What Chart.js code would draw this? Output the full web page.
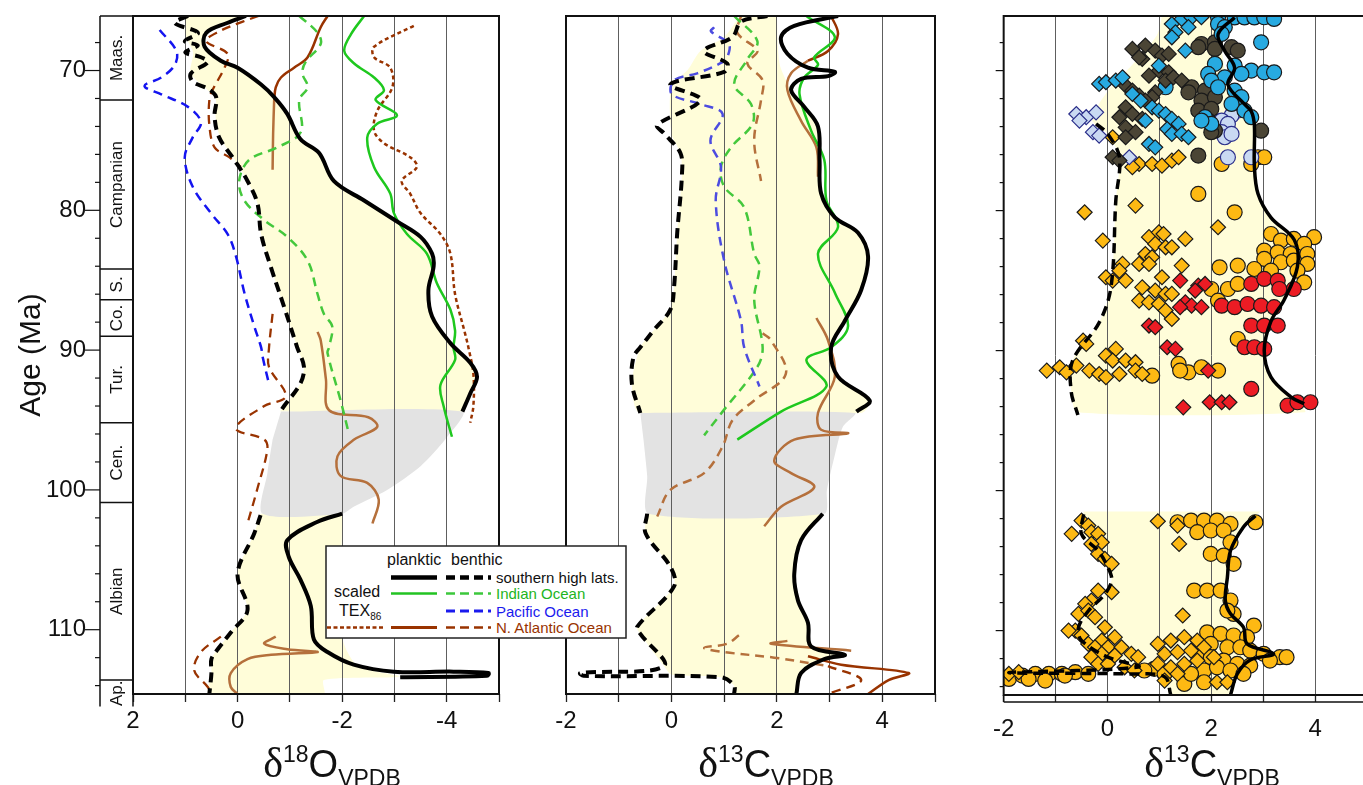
<!DOCTYPE html>
<html>
<head>
<meta charset="utf-8">
<script src="https://cdn.jsdelivr.net/npm/chart.js@4.4.1/dist/chart.umd.min.js"></script>
<style>
  html, body { margin: 0; padding: 0; background: #fff; overflow: hidden; }
  #wrap { position: relative; width: 1363px; height: 785px; overflow: hidden; }
  canvas { position: absolute; top: 0; }
  .ttl { position: absolute; top: 742px; transform: translateX(-50%); white-space: nowrap;
         font-family: 'Liberation Sans', Arial, sans-serif; font-size: 38px; line-height: 1; color: #111; }
  .ttl .d { font-family: 'Liberation Serif', 'Times New Roman', serif; font-size: 42px; }
  .ttl .sp { font-size: 23px; position: relative; top: -15px; }
  .ttl .sb { font-size: 23px; position: relative; top: 9px; }
  #leg { position: absolute; left: 320px; top: 540px; }
</style>
</head>
<body>
<div id="wrap">
  <canvas id="c1" width="540" height="785" style="left:0"></canvas>
  <canvas id="c2" width="420" height="785" style="left:540px"></canvas>
  <canvas id="c3" width="400" height="785" style="left:980px"></canvas>

  <div class="ttl" style="left:332px"><span class="d">δ</span><span class="sp">18</span>O<span class="sb">VPDB</span></div>
  <div class="ttl" style="left:766px"><span class="d">δ</span><span class="sp">13</span>C<span class="sb">VPDB</span></div>
  <div class="ttl" style="left:1212px"><span class="d">δ</span><span class="sp">13</span>C<span class="sb">VPDB</span></div>

  <svg id="leg" width="312" height="104" font-family="Liberation Sans, Arial, sans-serif" font-size="15">
    <rect x="6" y="6" width="300" height="92" fill="#fff" stroke="#222" stroke-width="1.5"/>
    <text x="67" y="25" font-size="16" fill="#111">planktic</text>
    <text x="131" y="25" font-size="16" fill="#111">benthic</text>
    <text x="14" y="57" font-size="16" fill="#111">scaled</text>
    <text x="19" y="76" font-size="16" fill="#111">TEX<tspan font-size="10" dy="4">86</tspan></text>

    <line x1="71" y1="37.5" x2="117" y2="37.5" stroke="#000" stroke-width="4.5"/>
    <line x1="126" y1="37.5" x2="171" y2="37.5" stroke="#000" stroke-width="4.5" stroke-dasharray="9 5"/>
    <text x="176" y="43" fill="#111">southern high lats.</text>

    <line x1="71" y1="53.5" x2="117" y2="53.5" stroke="#22c322" stroke-width="2.5"/>
    <line x1="126" y1="53.5" x2="171" y2="53.5" stroke="#3cc83c" stroke-width="2.5" stroke-dasharray="9 5"/>
    <text x="176" y="59" fill="#22b422">Indian Ocean</text>

    <line x1="126" y1="71" x2="171" y2="71" stroke="#1a1aee" stroke-width="3" stroke-dasharray="9 5"/>
    <text x="176" y="76.5" fill="#1a1aee">Pacific Ocean</text>

    <line x1="7" y1="87.5" x2="63" y2="87.5" stroke="#993300" stroke-width="2.5" stroke-dasharray="4 2.5"/>
    <line x1="71" y1="87.5" x2="117" y2="87.5" stroke="#993300" stroke-width="3"/>
    <line x1="126" y1="87.5" x2="171" y2="87.5" stroke="#993300" stroke-width="2.5" stroke-dasharray="9 5"/>
    <text x="176" y="93" fill="#993300">N. Atlantic Ocean</text>
  </svg>
</div>

<script>
// ---- axes ----
const ageMin = 66.1, ageMax = 114.6;
const ageTicks = [70, 80, 90, 100, 110];
const o18Ticks = [-5, -4, -3, -2, -1, 0, 1, 2];
const c13Ticks = [-2, -1, 0, 1, 2, 3, 4, 5];
const stageNames = ['Maas.', 'Campanian', 'S.', 'Co.', 'Tur.', 'Cen.', 'Albian', 'Ap.'];
const stageBase = [72.1, 84.2, 86.4, 89.0, 95.2, 100.9, 113.6, 115.5];

// ---- d18O panel: [value, age] ----
const o18SouthPlank = [[-0.16,66.1],[0.2,66.6],[0.6,67.3],[0.63,68.3],[0.32,69.3],[0.0,69.8],[-0.45,71.0],[-0.7,71.9],[-0.95,73.1],[-1.2,74.9],[-1.56,75.9],[-1.84,77.9],[-2.42,79.3],[-3.05,80.8],[-3.5,81.9],[-3.72,83.1],[-3.75,84.0],[-3.65,85.7],[-3.72,87.6],[-4.07,89.5],[-4.45,90.9],[-4.58,91.9],[-4.45,93.1],[-4.3,94.4]];
const o18SouthPlankLow = [[-2.0,101.7],[-1.52,102.3],[-0.95,103.6],[-0.98,104.8],[-1.2,106.4],[-1.4,108.3],[-1.46,110.7],[-1.72,111.6],[-2.22,112.5],[-2.99,113.0],[-4.13,113.0],[-4.8,113.1],[-4.77,113.3],[-3.11,113.4]];
const o18SouthBenth = [[0.95,66.1],[1.2,66.6],[0.76,67.3],[1.01,67.9],[0.76,68.2],[1.0,68.7],[0.7,69.05],[0.57,69.4],[0.89,70.2],[0.86,70.8],[0.57,71.3],[0.41,71.9],[0.44,73.3],[0.35,74.8],[0.06,76.4],[-0.19,77.9],[-0.38,79.5],[-0.45,81.7],[-0.64,84.1],[-0.89,86.9],[-1.14,89.8],[-1.27,91.2],[-1.2,92.4],[-0.89,94.0],[-0.82,94.4]];
const o18SouthBenthLow = [[-0.44,101.8],[-0.32,103.1],[0.0,106.0],[-0.19,108.6],[0.13,110.2],[0.38,111.4],[0.5,112.1],[0.5,113.1],[0.54,114.6]];
const o18PacBenth = [[1.49,67.1],[1.17,68.6],[1.2,69.6],[1.46,70.5],[1.78,71.1],[1.46,71.7],[0.95,72.6],[0.7,73.7],[0.86,74.8],[1.01,76.2],[0.86,78.3],[0.51,80.2],[0.19,81.7],[0.03,83.3],[-0.13,85.9],[-0.32,88.3],[-0.45,89.8],[-0.48,90.5],[-0.6,92.4]];
const o18IndPlank = [[-2.42,66.1],[-2.17,67.4],[-2.04,68.6],[-2.23,69.5],[-2.61,70.5],[-2.8,71.4],[-2.64,72.1],[-3.05,73.2],[-2.67,73.8],[-2.48,74.8],[-2.61,76.9],[-2.92,78.8],[-2.99,80.2],[-3.24,81.7],[-3.62,83.1],[-3.81,85.2],[-4.07,87.1],[-4.16,88.6],[-4.13,89.8],[-4.16,90.7],[-3.88,92.5],[-3.94,94.0],[-4.1,96.2]];
const o18IndBenth = [[-1.18,66.1],[-1.53,67.3],[-1.59,68.1],[-1.3,69.4],[-1.24,70.2],[-1.34,71.2],[-1.18,72.1],[-1.21,74.4],[-0.76,75.5],[-0.22,76.4],[-0.03,77.9],[-0.13,79.3],[-0.51,80.7],[-0.95,81.9],[-1.34,83.6],[-1.53,86.0],[-1.65,87.4],[-1.81,88.3],[-1.75,89.8],[-1.72,90.2],[-1.97,93.6],[-2.13,96.0]];
const o18AtlPlankTop = [[-1.72,66.1],[-1.59,66.9],[-1.34,69.05],[-1.08,69.8],[-0.83,70.5],[-0.73,71.2],[-0.7,72.1]];
const o18AtlPlankTop2 = [[-0.7,72.1],[-0.68,74.5],[-0.67,77.1]];
const o18AtlPlankMid = [[-1.53,88.7],[-1.59,89.3],[-1.69,92.1],[-1.75,94.3],[-2.5,94.8],[-2.67,95.5],[-2.23,96.4],[-1.91,97.6],[-1.97,99.0],[-2.48,99.5],[-2.7,100.7],[-2.58,102.4]];
const o18AtlPlankLow = [[-0.73,110.5],[-0.51,111.0],[-0.95,111.4],[-1.53,111.6],[-0.64,111.8],[-0.19,112.1],[0.13,113.1],[0.13,114.1],[0.0,114.6]];
const o18AtlBenthTop = [[-0.4,66.1],[-0.1,66.5],[0.35,67.2],[0.6,67.9],[0.19,68.8],[0.25,69.8],[0.48,71.4],[0.54,72.1],[0.54,73.9],[0.44,75.5],[0.16,76.2],[-0.06,76.9]];
const o18AtlBenthMid = [[-0.67,87.4],[-0.6,89.9],[-0.6,91.2],[-0.92,93.3],[-0.51,94.0],[0.03,95.6],[-0.51,96.4],[-0.57,97.1],[-0.38,99.9],[-0.19,102.4]];
const o18AtlBenthLow = [[0.32,110.5],[0.7,111.6],[0.83,112.9],[0.57,114.1],[0.5,114.6]];
const o18Tex = [[-3.37,66.8],[-2.61,68.3],[-2.61,69.05],[-2.92,69.8],[-2.96,71.2],[-2.67,72.9],[-2.61,74.3],[-2.8,75.2],[-3.3,76.2],[-3.43,76.9],[-3.14,77.9],[-3.3,78.8],[-3.5,80.2],[-3.88,81.7],[-4.07,83.1],[-4.16,86.0],[-4.35,88.8],[-4.42,89.9],[-4.51,91.7],[-4.51,94.0],[-4.45,95.2]];
const o18YellowTop = [[1.0,66.1],[1.0,67.5],[0.85,68.7],[0.9,70.2],[0.6,71.3],[0.42,72.0],[0.42,73.3],[0.33,74.8],[0.05,76.4],[-0.19,77.9],[-0.38,79.5],[-0.45,81.7],[-0.64,84.1],[-0.89,86.9],[-1.14,89.8],[-1.27,91.2],[-1.2,92.4],[-0.9,94.0],[-0.82,94.4],[-4.3,94.4],[-4.45,93.1],[-4.58,91.9],[-4.45,90.9],[-4.07,89.5],[-3.72,87.6],[-3.65,85.7],[-3.75,84.0],[-3.72,83.1],[-3.5,81.9],[-3.05,80.8],[-2.42,79.3],[-1.84,77.9],[-1.56,75.9],[-1.2,74.9],[-0.95,73.1],[-0.7,71.9],[-0.45,71.0],[0.0,69.8],[0.32,69.3],[0.63,68.3],[0.6,67.3],[-0.16,66.1]];
const o18YellowLow = [[-0.44,101.7],[-0.32,103.1],[0.0,106.0],[-0.19,108.6],[0.13,110.2],[0.38,111.4],[0.5,112.1],[0.5,113.1],[0.54,114.7],[-1.65,114.7],[-1.65,113.6],[-3.1,113.35],[-2.3,112.6],[-2.0,110.5],[-2.0,101.7]];
const o18Grey = [[-0.83,94.4],[-4.3,94.4],[-3.97,96.4],[-3.5,98.3],[-2.86,100.0],[-2.22,101.2],[-2.0,101.7],[-0.48,101.7],[-0.57,98.8],[-0.67,96.4]];

// ---- d13C panel ----
const c13SouthPlank = [[3.16,66.1],[2.33,66.8],[2.08,67.6],[2.2,68.8],[2.59,69.8],[3.1,70.1],[2.97,70.4],[2.46,70.6],[2.27,71.4],[2.52,72.6],[2.78,74.0],[2.81,76.4],[2.84,78.8],[3.1,80.5],[3.54,81.6],[3.73,83.3],[3.6,85.7],[3.29,87.9],[3.03,89.8],[3.16,91.9],[3.76,93.6],[3.51,94.4]];
const c13SouthPlankLow = [[2.87,101.7],[2.46,103.6],[2.33,106.0],[2.4,107.9],[2.59,109.5],[2.65,111.2],[3.29,111.8],[2.9,112.1],[2.46,113.1],[2.37,114.6]];
const c13SouthBenth = [[1.82,66.1],[1.32,66.5],[1.16,67.6],[0.62,68.6],[1.06,69.5],[1.0,70.1],[-0.02,71.0],[0.55,72.1],[-0.27,73.9],[-0.14,74.5],[0.17,75.9],[0.2,77.4],[0.11,81.6],[0.05,85.5],[-0.02,87.1],[-0.34,88.6],[-0.59,89.8],[-0.72,90.5],[-0.75,92.4],[-0.59,94.5]];
const c13SouthBenthLow = [[-0.46,101.7],[-0.49,103.1],[-0.02,105.5],[0.05,106.9],[-0.65,109.8],[-0.59,110.3],[-0.14,112.6],[-1.73,113.1],[-1.67,113.3],[0.94,113.4],[1.19,114.0],[1.19,114.6]];
const c13PacBenth = [[0.81,66.9],[0.75,67.2],[1.09,68.1],[1.06,69.05],[0.97,69.4],[0.49,70.2],[0.05,70.7],[0.01,71.7],[0.55,72.4],[0.97,73.1],[0.74,75.0],[0.94,76.9],[0.84,79.3],[1.0,83.6],[1.32,87.9],[1.38,89.8],[1.67,92.6]];
const c13IndPlank = [[2.56,66.1],[3.1,67.6],[2.71,69.05],[2.78,69.6],[2.52,70.5],[2.43,71.7],[2.65,74.3],[2.9,76.4],[2.94,79.3],[3.16,81.2],[2.78,83.1],[3.1,85.9],[3.35,88.3],[3.03,89.8],[2.56,90.7],[2.94,92.6],[2.08,94.4],[1.25,96.4]];
const c13IndBenth = [[1.19,66.1],[1.63,67.9],[1.44,69.2],[1.19,71.0],[1.51,72.4],[1.54,73.8],[1.13,75.5],[0.94,76.9],[1.0,78.3],[1.38,79.8],[1.57,83.1],[1.67,84.0],[1.57,86.4],[1.73,89.8],[1.63,91.2],[0.97,94.4],[0.62,96.1]];
const c13AtlPlankTop = [[3.03,66.1],[3.16,67.4],[2.97,68.6],[2.59,69.3]];
const c13AtlPlankTop2 = [[2.59,69.3],[2.27,70.2],[2.2,71.4],[2.46,73.6],[2.75,75.5],[2.78,77.6]];
const c13AtlBenthTop = [[1.32,66.1],[1.25,67.3],[1.63,68.6],[1.44,69.5],[1.73,70.7],[1.7,72.1],[1.57,75.0],[1.7,77.9]];
const c13AtlPlankMid = [[2.75,87.7],[2.97,89.3],[3.1,91.9],[2.78,94.5],[2.84,95.7],[3.35,95.95],[2.33,96.4],[1.95,97.9],[2.27,98.8],[2.71,99.8],[2.08,101.2],[1.76,102.6]];
const c13AtlBenthMid = [[1.73,88.8],[1.89,89.3],[2.17,91.7],[1.57,93.6],[1.16,95.0],[0.97,96.9],[0.62,98.8],[-0.02,100.0],[-0.27,101.9]];
const c13AtlPlankLow = [[2.2,110.8],[1.89,111.0],[3.41,111.5]];
const c13AtlPlankLow2 = [[2.59,111.9],[3.22,112.5],[4.5,113.1],[4.12,113.6],[3.73,114.6]];
const c13AtlBenthLow = [[1.28,110.4],[1.06,111.0],[0.62,111.3],[1.0,111.6],[1.95,112.0],[2.97,112.6]];
const c13AtlBenthLow2 = [[2.97,112.6],[3.6,113.6],[2.97,114.6]];
const c13YellowTop = [[1.3,66.1],[1.0,67.6],[0.55,68.6],[0.3,70.0],[0.0,71.0],[0.0,74.5],[0.17,75.9],[0.2,77.4],[0.11,81.6],[0.05,85.5],[-0.02,87.1],[-0.34,88.6],[-0.59,89.8],[-0.75,92.4],[-0.59,94.5],[3.6,94.5],[3.76,93.6],[3.16,91.9],[3.03,89.8],[3.29,87.9],[3.6,85.7],[3.73,83.3],[3.54,81.6],[3.1,80.5],[2.84,78.8],[2.81,76.4],[2.78,74.0],[2.52,72.6],[2.27,71.4],[2.05,69.5],[2.0,66.1]];
const c13YellowLow = [[-0.46,101.7],[-0.49,103.1],[-0.02,105.5],[0.05,106.9],[-0.65,109.8],[-0.59,110.3],[-0.14,112.6],[0.0,113.2],[0.94,113.4],[1.19,114.0],[1.19,114.7],[2.37,114.7],[2.46,113.1],[2.9,112.1],[3.29,111.8],[2.65,111.2],[2.59,109.5],[2.4,107.9],[2.33,106.0],[2.46,103.6],[2.87,101.7]];
const c13Grey = [[-0.59,94.5],[3.48,94.5],[3.25,95.5],[3.1,97.5],[2.95,100.0],[2.9,101.7],[-0.43,101.7],[-0.46,99.0],[-0.53,96.4]];

// ---- d13C compilation panel ----
const c13bPlank = [[2.45,66.2],[2.13,67.4],[2.26,68.6],[2.45,69.8],[2.32,71.0],[2.64,72.4],[2.77,72.9],[2.83,73.9],[2.83,76.8],[2.9,78.8],[3.15,80.5],[3.6,82.1],[3.66,84.0],[3.4,86.4],[3.15,87.9],[3.02,90.0],[3.15,91.9],[3.53,93.3],[3.79,93.8]];
const c13bBenth = [[-0.22,73.8],[0.0,74.5],[0.23,76.2],[0.16,79.3],[0.07,85.4],[-0.16,88.0],[-0.67,90.7],[-0.7,92.9],[-0.57,94.6]];
const c13bPlankLow = [[2.85,101.8],[2.62,102.6],[2.37,104.3],[2.31,106.2],[2.27,107.85],[2.37,108.8],[2.62,109.76],[2.69,110.95],[3.2,111.66],[2.75,112.1],[2.5,113.1],[2.37,114.6]];
const c13bBenthLow = [[-0.46,101.7],[-0.5,103.1],[-0.18,104.3],[0.01,105.5],[0.08,106.4],[-0.05,107.4],[-0.37,108.6],[-0.56,109.8],[-0.5,110.7],[0.01,111.9],[0.59,112.6],[-1.9,113.0],[0.46,113.1],[1.1,113.3],[1.22,114.6]];
const c13bYellowTop = [[1.05,66.1],[0.95,67.5],[0.5,69.5],[0.0,71.5],[-0.3,73.5],[0.0,74.5],[0.23,76.2],[0.16,79.3],[0.07,85.4],[-0.16,88.0],[-0.67,90.7],[-0.7,92.9],[-0.57,94.4],[3.8,94.4],[3.53,93.3],[3.15,91.9],[3.02,90.0],[3.15,87.9],[3.4,86.4],[3.66,84.0],[3.6,82.1],[3.15,80.5],[2.9,78.8],[2.83,76.8],[2.83,73.9],[2.64,72.4],[2.32,71.0],[2.2,68.6],[2.0,66.1]];
const c13bYellowLow = [[-0.46,101.5],[-0.5,103.1],[-0.18,104.3],[0.01,105.5],[0.08,106.4],[-0.05,107.4],[-0.37,108.6],[-0.56,109.8],[-0.5,110.7],[0.01,111.9],[0.59,112.6],[1.1,113.3],[1.22,114.7],[2.37,114.7],[2.5,113.1],[2.75,112.1],[3.2,111.66],[2.69,110.95],[2.62,109.76],[2.37,108.8],[2.27,107.85],[2.31,106.2],[2.37,104.3],[2.62,102.6],[2.95,101.5]];

const blueDiamonds = [[1.24,66.67],[1.43,66.31],[1.62,66.2],[1.81,66.19],[1.31,67.26],[1.56,66.9],[1.24,67.62],[1.5,68.57],[0.99,69.64],[-0.16,70.95],[-0.03,70.83],[0.16,70.71],[0.29,70.48],[0.48,71.67],[0.64,72.14],[0.86,72.62],[0.99,72.86],[1.12,73.1],[1.24,73.45],[1.37,73.81],[0.73,73.57],[1.15,74.17],[1.24,74.52],[1.43,74.52],[1.56,74.76],[0.8,75.24],[0.92,75.48]];
const oliveDiamonds = [[0.48,68.45],[0.73,68.21],[0.92,68.57],[1.05,68.93],[1.18,68.81],[0.67,69.17],[0.61,69.05],[0.99,70.0],[1.18,70.12],[0.8,70.36],[1.12,70.71],[1.27,70.48],[1.43,70.71],[0.35,71.07],[0.48,71.43],[0.61,71.79],[0.92,71.55],[0.86,71.9],[0.73,72.14],[0.35,72.62],[0.48,73.1],[0.67,73.45],[0.23,73.33],[0.35,74.05],[0.54,74.4],[0.35,74.76],[0.1,76.19],[0.23,76.43]];
const lavDiamonds = [[-0.6,73.1],[-0.41,73.33],[-0.22,72.98],[-0.54,73.57],[-0.28,74.4],[-0.16,74.64],[0.42,76.19]];
const goldDiamonds = [[0.1,74.76],[0.61,76.67],[0.86,76.67],[1.05,76.79],[1.24,76.43],[1.37,76.19],[0.48,76.9],[-0.44,80.12],[0.54,79.64],[2.13,81.19],[-0.09,82.14],[0.8,81.9],[0.99,81.55],[1.08,81.67],[1.5,82.02],[0.92,82.38],[1.12,82.62],[1.24,82.62],[0.73,83.1],[0.86,83.33],[0.29,83.81],[0.61,83.81],[0.8,83.81],[1.43,83.93],[0.23,84.29],[-0.03,84.76],[0.1,85.0],[0.35,85.0],[1.05,84.76],[0.67,85.48],[0.92,85.71],[1.12,85.95],[1.24,85.95],[0.61,86.43],[0.8,86.55],[0.99,86.67],[1.12,87.14],[1.24,87.74],[-0.47,89.29],[-0.41,89.52],[0.16,89.88],[-0.03,90.36],[0.1,90.71],[0.35,90.71],[0.54,90.83],[-1.17,91.43],[-0.92,91.19],[-0.79,91.55],[-0.6,91.07],[-0.35,91.43],[-0.16,91.67],[-0.03,91.9],[0.23,91.67],[0.54,91.43],[0.67,91.67],
  [-0.5,102.14],[-0.37,102.5],[-0.69,103.09],[-0.31,102.97],[-0.18,103.09],[-0.11,103.69],[-0.31,103.81],[-0.18,104.52],[-0.05,104.88],[0.08,105.23],[0.97,102.19],[1.35,102.5],[1.38,103.81],[-0.18,107.14],[0.08,107.26],[-0.31,107.85],[-0.43,108.09],[-0.56,108.81],[-0.37,108.57],[-0.24,109.04],[-0.62,110.0],[-0.75,110.0],[-0.5,110.35],[-0.05,109.76],[0.14,110.47],[-0.11,110.71],[-0.37,110.95],[-0.24,111.19],[0.01,111.19],[0.27,111.19],[-0.11,111.66],[0.14,111.78],[-0.31,111.9],[0.46,111.66],[0.59,111.9],[-0.18,112.38],[0.01,112.38],[0.33,112.62],[0.52,112.85],[-1.9,113.09],[-1.71,112.97],[1.45,108.92],[0.97,110.95],[1.22,110.71],[1.48,110.47],[1.73,110.71],[1.1,111.66],[1.35,111.54],[1.61,111.43],[0.97,112.38],[1.22,112.62],[1.48,112.38],[1.73,112.14],[1.1,113.57],[1.35,113.09],[2.11,113.69],[2.31,113.69],[1.86,111.19],[2.05,111.9]];
const redDiamonds = [[1.4,85.0],[1.75,85.36],[1.88,85.24],[1.69,85.71],[1.5,86.55],[1.62,86.79],[1.81,86.9],[1.4,86.9],[0.8,88.21],[0.92,88.33],[1.15,89.76],[1.31,89.88],[1.94,91.43],[1.46,94.05],[1.97,93.69],[2.2,93.69],[2.35,93.69]];
const blueCircles = [[2.13,66.19],[2.45,66.2],[2.64,66.2],[2.83,66.2],[3.02,66.19],[3.21,66.31],[2.13,66.67],[2.26,66.9],[2.2,67.38],[2.96,67.98],[2.07,69.52],[2.45,69.64],[2.77,70.0],[3.02,70.12],[3.21,70.12],[1.94,70.24],[2.26,70.48],[2.58,70.24],[2.0,70.71],[2.13,71.19],[1.12,71.19],[2.45,71.43],[2.58,71.9],[2.39,72.38],[2.64,72.86],[2.77,73.33],[1.88,73.33],[2.0,73.81],[1.81,73.57]];
const oliveCircles = [[1.81,68.1],[2.07,67.98],[2.39,68.33],[2.51,68.57],[1.75,68.33],[2.07,68.45],[1.62,71.19],[1.56,71.55],[1.88,71.43],[1.81,72.14],[2.07,71.9],[1.75,72.86],[2.0,72.74],[1.94,73.57],[2.07,74.29],[2.0,74.4],[2.96,74.29],[1.75,76.07]];
const lavCircles = [[2.51,72.86],[2.39,73.21],[2.2,73.57],[2.32,73.81],[2.2,74.4],[2.26,74.76],[2.39,74.52],[2.32,76.19],[2.77,76.19]];
const goldCircles = [[2.9,76.19],[3.02,76.19],[2.77,76.67],[2.2,76.67],[1.75,78.81],[2.45,80.12],[3.98,81.9],[3.15,81.67],[3.34,82.14],[3.59,82.02],[3.79,82.38],[3.02,82.86],[3.28,82.98],[3.53,83.1],[3.85,83.1],[3.02,83.45],[3.34,83.69],[3.59,83.57],[3.85,83.81],[2.16,84.05],[2.51,83.93],[2.83,84.17],[3.15,84.29],[3.66,84.29],[3.79,85.12],[2.0,85.6],[2.32,85.6],[2.51,85.24],[2.13,86.43],[2.51,89.17],[1.37,90.95],[1.56,91.55],[1.81,91.19],[2.13,91.43],[0.86,91.79],[1.4,91.43],
  [-1.9,113.45],[-1.64,113.21],[-1.39,113.09],[-1.13,113.09],[-0.88,113.09],[-0.62,112.97],[-0.37,113.09],[-1.52,113.45],[-1.2,113.57],[-0.82,113.21],[1.35,102.26],[1.61,102.14],[1.86,102.14],[2.11,102.14],[2.37,102.38],[1.73,102.97],[1.99,102.85],[2.24,102.85],[2.85,102.26],[2.37,103.69],[1.99,104.52],[2.24,104.64],[2.43,105.23],[1.67,107.14],[1.92,107.14],[2.18,107.14],[2.37,107.85],[2.43,108.81],[2.31,108.57],[2.82,109.64],[1.92,110.12],[2.18,110.23],[2.43,110.35],[2.69,110.47],[1.99,110.95],[2.31,111.19],[2.56,111.19],[2.75,111.43],[3.01,111.66],[3.32,111.9],[3.13,112.14],[3.45,111.9],[1.73,111.66],[1.99,111.9],[2.24,112.14],[2.5,112.38],[2.75,112.5],[1.86,112.85],[2.11,112.62],[2.37,112.85],[2.62,113.09],[1.48,113.81],[1.86,113.69],[1.61,113.09],[0.9,112.73],[0.71,112.85],[1.1,113.09]];
const redCircles = [[2.77,85.24],[3.02,84.88],[3.28,85.0],[3.59,85.6],[3.31,85.6],[2.2,86.79],[2.45,86.9],[2.7,86.67],[2.96,86.79],[3.21,86.9],[2.77,88.21],[3.02,88.21],[3.28,88.21],[2.64,89.76],[2.83,89.76],[3.02,89.88],[2.77,92.74],[3.47,93.93],[3.66,93.69],[3.91,93.69]];

// ---- helpers ----
const pts = arr => arr.map(([x, y]) => ({ x, y }));
const curve = (d, color, width, dash) => ({
  data: pts(d), borderColor: color, borderWidth: width, borderDash: dash || [],
  pointRadius: 0, fill: false, tension: 0.35, order: 0
});
const area = (d, color, order) => ({
  data: pts(d), backgroundColor: color, borderColor: 'rgba(0,0,0,0)', borderWidth: 0,
  pointRadius: 0, fill: 'shape', tension: 0.25, order
});
const marks = (d, color, style, edge) => ({
  data: pts(d), showLine: false, pointRadius: 7.5, pointStyle: style,
  pointBackgroundColor: color, pointBorderColor: edge || '#1a1a1a', pointBorderWidth: 1.2, order: 5
});

const BLACK = '#000', GREEN = '#1ec81e', GREEN2 = '#44c83c', BLUE = '#1414f0', BLUE2 = '#4c4ce0';
const DKBROWN = '#993300', TAN = '#b5703c', YELLOW = '#fffdd9', GREY = '#e3e3e3';
const NARROW = "'Liberation Sans Narrow', 'Arial Narrow', sans-serif";
const DASH = [10, 6], DASH2 = [9, 6], DOT = [4, 3];

Chart.defaults.font.family = "'Liberation Sans', Arial, sans-serif";

const framePlugin = {
  id: 'frame',
  afterDraw(chart, args, opts) {
    const { ctx, chartArea: a } = chart;
    ctx.save();
    ctx.strokeStyle = '#111';
    ctx.lineWidth = 2;
    ctx.strokeRect(a.left, a.top, a.right - a.left, a.bottom - a.top);
    if (opts.extraBottom) {
      ctx.lineWidth = 1.5;
      ctx.beginPath();
      ctx.moveTo(a.left, a.bottom + opts.extraBottom);
      ctx.lineTo(chart.width, a.bottom + opts.extraBottom);
      ctx.moveTo(a.left, a.bottom);
      ctx.lineTo(a.left, a.bottom + opts.extraBottom);
      ctx.stroke();
    }
    if (opts.leftTicks) {
      const y = chart.scales.y;
      ctx.lineWidth = 1.2;
      for (let v = 68; v <= 114; v += 2) {
        const py = y.getPixelForValue(v);
        ctx.beginPath();
        ctx.moveTo(a.left - (v % 10 === 0 ? 8 : 4), py);
        ctx.lineTo(a.left, py);
        ctx.stroke();
      }
    }
    ctx.restore();
  }
};

// geologic stage column left of the first panel
const stagePlugin = {
  id: 'stages',
  afterDraw(chart) {
    const { ctx, chartArea: a } = chart;
    const y = chart.scales.y;
    const x0 = 100, x1 = a.left;
    const last = stageBase.length - 1;
    ctx.save();
    ctx.strokeStyle = '#111';
    ctx.lineWidth = 1.5;
    ctx.beginPath();
    ctx.moveTo(x0, a.top); ctx.lineTo(x1, a.top);
    ctx.moveTo(x0, a.top); ctx.lineTo(x0, y.getPixelForValue(stageBase[last]));
    ctx.moveTo(x1, a.bottom); ctx.lineTo(x1, y.getPixelForValue(stageBase[last]));
    for (let i = 0; i < last; i++) {
      const py = y.getPixelForValue(stageBase[i]);
      ctx.moveTo(x0, py); ctx.lineTo(x1, py);
    }
    ctx.stroke();
    ctx.lineWidth = 1.2;
    for (let v = 68; v <= 114; v += 2) {
      const py = y.getPixelForValue(v);
      ctx.beginPath();
      ctx.moveTo(x0 - (v % 10 === 0 ? 15 : 5), py);
      ctx.lineTo(x0, py);
      ctx.stroke();
    }
    ctx.fillStyle = '#111';
    ctx.font = "17px 'Liberation Sans', Arial, sans-serif";
    ctx.textAlign = 'center';
    ctx.textBaseline = 'middle';
    stageNames.forEach((name, i) => {
      const top = i ? stageBase[i - 1] : ageMin;
      const cy = (y.getPixelForValue(top) + y.getPixelForValue(stageBase[i])) / 2;
      ctx.save();
      ctx.translate((x0 + x1) / 2 + 1, cy);
      ctx.rotate(-Math.PI / 2);
      ctx.fillText(name, 0, 0);
      ctx.restore();
    });
    ctx.restore();
  }
};

function xAxis(ticks, reverse, tickLen, pad, height) {
  return {
    type: 'linear', min: ticks[0], max: ticks[ticks.length - 1], reverse,
    afterBuildTicks: s => { s.ticks = ticks.map(v => ({ value: v })); },
    afterFit: s => { s.height = height; },
    border: { display: false },
    grid: { color: '#5e5e5e', lineWidth: 1, tickLength: tickLen, tickColor: '#222', tickWidth: 1.3 },
    ticks: {
      autoSkip: false, maxRotation: 0, padding: pad, color: '#111',
      font: { family: NARROW, size: 24 },
      callback: v => (v % 2 === 0 ? String(v) : '')
    }
  };
}
const yHidden = { type: 'linear', min: ageMin, max: ageMax, reverse: true, display: false };

function makeChart(id, datasets, x, y, padding, frameOpts, extra) {
  return new Chart(document.getElementById(id), {
    type: 'line',
    data: { datasets },
    options: {
      responsive: false, animation: false, events: [], devicePixelRatio: 1,
      layout: { padding },
      plugins: {
        legend: { display: false }, tooltip: { enabled: false },
        filler: { drawTime: 'beforeDraw' },
        frame: frameOpts
      },
      scales: { x, y }
    },
    plugins: [framePlugin].concat(extra || [])
  });
}

// panel 1: d18O
makeChart('c1', [
  curve(o18SouthPlank, BLACK, 4),
  curve(o18SouthPlankLow, BLACK, 4),
  curve(o18SouthBenth, BLACK, 4, DASH),
  curve(o18SouthBenthLow, BLACK, 4, DASH),
  curve(o18PacBenth, BLUE, 2.5, DASH2),
  curve(o18IndPlank, GREEN, 2.5),
  curve(o18IndBenth, GREEN2, 2.5, DASH2),
  curve(o18AtlPlankTop, DKBROWN, 2.5),
  curve(o18AtlPlankTop2, TAN, 2.5),
  curve(o18AtlPlankMid, TAN, 2.5),
  curve(o18AtlPlankLow, TAN, 2.5),
  curve(o18AtlBenthTop, DKBROWN, 2.3, DASH2),
  curve(o18AtlBenthMid, DKBROWN, 2.3, DASH2),
  curve(o18AtlBenthLow, DKBROWN, 2.3, DASH2),
  curve(o18Tex, DKBROWN, 2.5, DOT),
  area(o18Grey, GREY, 19),
  area(o18YellowTop, YELLOW, 20),
  area(o18YellowLow, YELLOW, 20)
],
  xAxis(o18Ticks, true, 8, 5, 91),
  {
    type: 'linear', min: ageMin, max: ageMax, reverse: true,
    afterBuildTicks: s => { s.ticks = ageTicks.map(v => ({ value: v })); },
    afterFit: s => { s.width = 133; },
    border: { display: false },
    // grid hidden; tickLength only reserves room for the stage column
    grid: { display: false, drawTicks: true, tickLength: 47 },
    ticks: { padding: 0, color: '#111', font: { family: NARROW, size: 24 } },
    title: { display: true, text: 'Age (Ma)', color: '#111', font: { size: 30 }, padding: { top: 14, bottom: 0 } }
  },
  { top: 16, right: 41, bottom: 0, left: 0 }, {}, [stagePlugin]);

// panel 2: d13C
makeChart('c2', [
  curve(c13SouthPlank, BLACK, 4),
  curve(c13SouthPlankLow, BLACK, 4),
  curve(c13SouthBenth, BLACK, 4, DASH),
  curve(c13SouthBenthLow, BLACK, 4, DASH),
  curve(c13PacBenth, BLUE2, 2.5, DASH2),
  curve(c13IndPlank, GREEN, 2.5),
  curve(c13IndBenth, GREEN2, 2.5, DASH2),
  curve(c13AtlPlankTop, DKBROWN, 2.5),
  curve(c13AtlPlankTop2, TAN, 2.5),
  curve(c13AtlBenthTop, TAN, 2.5, DASH2),
  curve(c13AtlPlankMid, TAN, 2.5),
  curve(c13AtlBenthMid, TAN, 2.5, DASH2),
  curve(c13AtlPlankLow, TAN, 2.5),
  curve(c13AtlPlankLow2, DKBROWN, 2.5),
  curve(c13AtlBenthLow, TAN, 2.5, DASH2),
  curve(c13AtlBenthLow2, DKBROWN, 2.5, DASH2),
  area(c13Grey, GREY, 19),
  area(c13YellowTop, YELLOW, 20),
  area(c13YellowLow, YELLOW, 20)
],
  xAxis(c13Ticks, false, 8, 5, 91), yHidden,
  { top: 16, right: 25, bottom: 0, left: 26 }, {});

// panel 3: d13C compilation
makeChart('c3', [
  curve(c13bPlank, BLACK, 3.5),
  curve(c13bBenth, BLACK, 3.5, DASH),
  curve(c13bPlankLow, BLACK, 3.5),
  curve(c13bBenthLow, BLACK, 3.5, DASH),
  marks(blueDiamonds, '#27aae1', 'rectRot'),
  marks(oliveDiamonds, '#4b4535', 'rectRot'),
  marks(lavDiamonds, '#c9d9f2', 'rectRot', '#2b2f8a'),
  marks(blueCircles, '#27aae1', 'circle'),
  marks(oliveCircles, '#4b4535', 'circle'),
  marks(lavCircles, '#c9d9f2', 'circle', '#2b2f8a'),
  marks(redDiamonds, '#ec1c24', 'rectRot'),
  marks(redCircles, '#ec1c24', 'circle'),
  marks(goldDiamonds, '#fdb913', 'rectRot'),
  marks(goldCircles, '#fdb913', 'circle'),
  area(c13bYellowTop, YELLOW, 20),
  area(c13bYellowLow, YELLOW, 20)
],
  xAxis(c13Ticks, false, 7, 13, 90), yHidden,
  { top: 16, right: 10, bottom: 0, left: 23 }, { extraBottom: 7, leftTicks: true });
</script>
</body>
</html>
